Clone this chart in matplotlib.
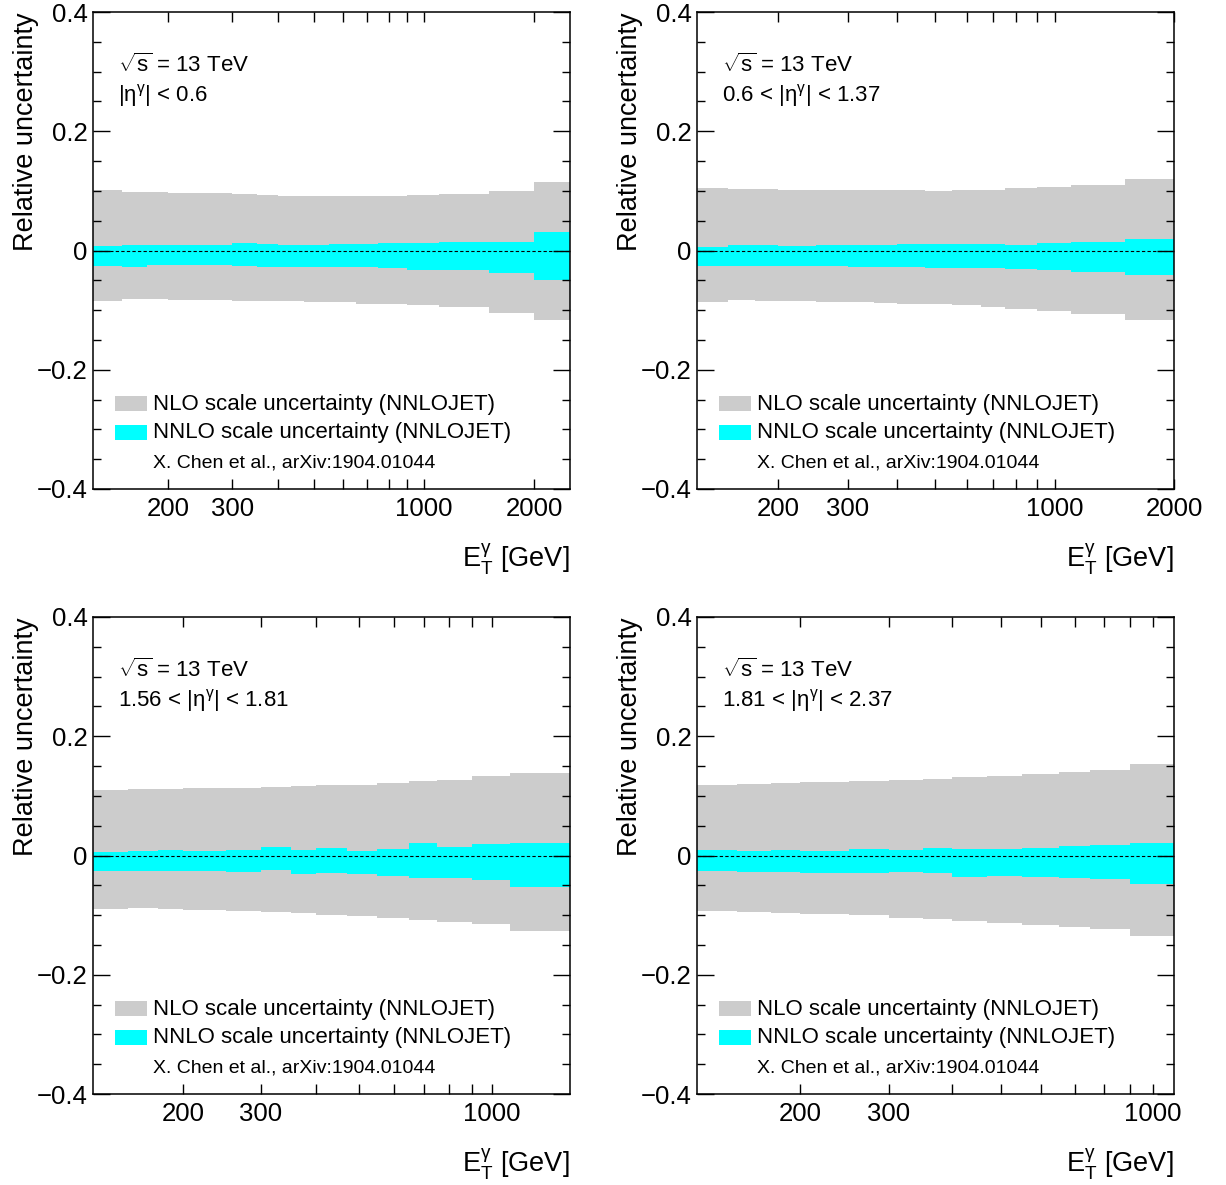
import numpy as np
import matplotlib
matplotlib.use("Agg")
import matplotlib.pyplot as plt
from matplotlib.ticker import FixedLocator, FuncFormatter
from matplotlib.patches import Rectangle

plt.rcParams['font.family'] = ['Liberation Sans', 'DejaVu Sans']
plt.rcParams['mathtext.fontset'] = 'custom'
plt.rcParams['mathtext.rm'] = 'Liberation Sans'
plt.rcParams['mathtext.it'] = 'Liberation Sans'
plt.rcParams['mathtext.bf'] = 'Liberation Sans:bold'
plt.rcParams['mathtext.default'] = 'regular'

# ---------------- data ----------------
edges_all = [125, 150, 175, 200, 250, 300, 350, 400, 470, 550, 650, 750, 900, 1100, 1500, 2000, 2500]

# panel 1: |eta| < 0.6  (16 bins, 125-2500)
p1_nlo_up = [0.102, 0.098, 0.098, 0.097, 0.096, 0.095, 0.093, 0.092, 0.091, 0.091, 0.091, 0.091, 0.093, 0.095, 0.100, 0.115]
p1_nlo_dn = [-0.085, -0.081, -0.082, -0.083, -0.083, -0.084, -0.085, -0.085, -0.086, -0.086, -0.089, -0.089, -0.092, -0.095, -0.104, -0.116]
p1_nnlo_up = [0.007, 0.0095, 0.0095, 0.009, 0.010, 0.012, 0.011, 0.010, 0.010, 0.011, 0.011, 0.012, 0.013, 0.014, 0.014, 0.031]
p1_nnlo_dn = [-0.026, -0.027, -0.025, -0.024, -0.025, -0.026, -0.027, -0.027, -0.028, -0.028, -0.028, -0.029, -0.032, -0.033, -0.037, -0.049]

# panel 2: 0.6 < |eta| < 1.37  (15 bins, 125-2000)
p2_nlo_up = [0.105, 0.103, 0.103, 0.102, 0.102, 0.101, 0.101, 0.101, 0.100, 0.101, 0.102, 0.104, 0.106, 0.110, 0.120]
p2_nlo_dn = [-0.086, -0.083, -0.084, -0.085, -0.086, -0.087, -0.088, -0.089, -0.090, -0.092, -0.095, -0.098, -0.101, -0.106, -0.116]
p2_nnlo_up = [0.006, 0.0095, 0.0095, 0.008, 0.009, 0.0095, 0.0095, 0.011, 0.011, 0.011, 0.011, 0.010, 0.013, 0.015, 0.020]
p2_nnlo_dn = [-0.026, -0.026, -0.026, -0.026, -0.026, -0.027, -0.027, -0.028, -0.029, -0.029, -0.030, -0.031, -0.032, -0.036, -0.041]

# panel 3: 1.56 < |eta| < 1.81  (14 bins, 125-1500)
p3_nlo_up = [0.1095, 0.111, 0.112, 0.113, 0.1135, 0.1157, 0.117, 0.118, 0.119, 0.121, 0.1255, 0.127, 0.133, 0.139]
p3_nlo_dn = [-0.089, -0.088, -0.089, -0.091, -0.093, -0.094, -0.097, -0.099, -0.101, -0.104, -0.108, -0.112, -0.1155, -0.127]
p3_nnlo_up = [0.0067, 0.0083, 0.009, 0.008, 0.0095, 0.0145, 0.010, 0.012, 0.008, 0.011, 0.0217, 0.014, 0.0195, 0.021]
p3_nnlo_dn = [-0.0267, -0.026, -0.0255, -0.026, -0.027, -0.0245, -0.0305, -0.029, -0.031, -0.035, -0.038, -0.038, -0.041, -0.053]

# panel 4: 1.81 < |eta| < 2.37  (13 bins, 125-1100)
p4_nlo_up = [0.1178, 0.1195, 0.121, 0.123, 0.1245, 0.1267, 0.129, 0.1317, 0.134, 0.1367, 0.1407, 0.143, 0.153]
p4_nlo_dn = [-0.093, -0.094, -0.097, -0.098, -0.1005, -0.104, -0.107, -0.1105, -0.114, -0.117, -0.1205, -0.124, -0.1355]
p4_nnlo_up = [0.0095, 0.007, 0.010, 0.008, 0.011, 0.009, 0.0133, 0.011, 0.0117, 0.012, 0.016, 0.0178, 0.0217]
p4_nnlo_dn = [-0.026, -0.027, -0.028, -0.0295, -0.0295, -0.027, -0.030, -0.0367, -0.034, -0.0367, -0.038, -0.040, -0.048]

eta_labels = [r'$|\eta^{\gamma}|$ < 0.6', r'0.6 < $|\eta^{\gamma}|$ < 1.37',
              r'1.56 < $|\eta^{\gamma}|$ < 1.81', r'1.81 < $|\eta^{\gamma}|$ < 2.37']
xmax = [2500, 2000, 1500, 1100]
xlabels_shown = [[200, 300, 1000, 2000], [200, 300, 1000, 2000], [200, 300, 1000], [200, 300, 1000]]

panels = [
    (p1_nlo_up, p1_nlo_dn, p1_nnlo_up, p1_nnlo_dn),
    (p2_nlo_up, p2_nlo_dn, p2_nnlo_up, p2_nnlo_dn),
    (p3_nlo_up, p3_nlo_dn, p3_nnlo_up, p3_nnlo_dn),
    (p4_nlo_up, p4_nlo_dn, p4_nnlo_up, p4_nnlo_dn),
]

GRAY = '#cccccc'
CYAN = '#00ffff'

W, H = 1226, 1185
fig = plt.figure(figsize=(W / 100, H / 100), dpi=100)

boxes = [(93, 12), (697, 12), (93, 617), (697, 617)]
aw, ah = 477, 477

for i, (nlo_u, nlo_d, nnlo_u, nnlo_d) in enumerate(panels):
    x0, y0 = boxes[i]
    ax = fig.add_axes([x0 / W, 1 - (y0 + ah) / H, aw / W, ah / H])
    n = len(nlo_u)
    edges = edges_all[:n + 1]
    ax.stairs(nlo_u, edges, baseline=nlo_d, fill=True, color=GRAY, lw=0)
    ax.stairs(nnlo_u, edges, baseline=nnlo_d, fill=True, color=CYAN, lw=0)
    ax.axhline(0, color='black', lw=0.8, ls=(0, (3, 2)))
    ax.set_xscale('log')
    ax.set_xlim(125, xmax[i])
    ax.set_ylim(-0.4, 0.4)

    # x ticks
    ax.xaxis.set_major_locator(FixedLocator([1000]))
    minors = [v for v in [200, 300, 400, 500, 600, 700, 800, 900, 2000] if v <= xmax[i]]
    ax.xaxis.set_minor_locator(FixedLocator(minors))
    shown = xlabels_shown[i]
    fmt = FuncFormatter(lambda v, p, s=shown: f'{int(round(v))}' if int(round(v)) in s else '')
    ax.xaxis.set_major_formatter(fmt)
    ax.xaxis.set_minor_formatter(fmt)

    # y ticks
    ax.yaxis.set_major_locator(FixedLocator([-0.4, -0.2, 0, 0.2, 0.4]))
    ax.yaxis.set_minor_locator(FixedLocator(np.arange(-0.4, 0.401, 0.05)))
    ax.yaxis.set_major_formatter(FuncFormatter(
        lambda v, p: '0' if abs(v) < 1e-9 else (f'{v:.1f}'.replace('-', '\u2212'))))

    ax.tick_params(which='both', direction='in', top=True, right=True, labelsize=18.5, width=1, color='black')
    ax.tick_params(axis='x', which='both', length=7, pad=6)
    ax.tick_params(axis='y', which='major', length=12, pad=4)
    ax.tick_params(axis='y', which='minor', length=6)
    for sp in ax.spines.values():
        sp.set_linewidth(1.1)

    ax.set_ylabel('Relative uncertainty', fontsize=19.5, loc='top')
    ax.yaxis.set_label_coords(-0.114, 1.0)
    ax.set_xlabel(r'$E_{T}^{\gamma}$ [GeV]', fontsize=19.5, loc='right')
    ax.xaxis.set_label_coords(1.0, -0.11)

    ax.text(0.052, 0.889, r'$\sqrt{s}$ = 13 TeV', transform=ax.transAxes, fontsize=16, va='center', ha='left')
    ax.text(0.052, 0.824, eta_labels[i], transform=ax.transAxes, fontsize=16, va='center', ha='left')

    ax.add_patch(Rectangle((0.046, 0.1635), 0.067, 0.0315, transform=ax.transAxes, color=GRAY, lw=0, clip_on=False))
    ax.add_patch(Rectangle((0.046, 0.103), 0.067, 0.0315, transform=ax.transAxes, color=CYAN, lw=0, clip_on=False))
    ax.text(0.126, 0.178, 'NLO scale uncertainty (NNLOJET)', transform=ax.transAxes, fontsize=16, va='center', ha='left')
    ax.text(0.126, 0.1175, 'NNLO scale uncertainty (NNLOJET)', transform=ax.transAxes, fontsize=16, va='center', ha='left')
    ax.text(0.126, 0.0545, 'X. Chen et al., arXiv:1904.01044', transform=ax.transAxes, fontsize=14, va='center', ha='left')

fig.savefig('out.png', dpi=100)
